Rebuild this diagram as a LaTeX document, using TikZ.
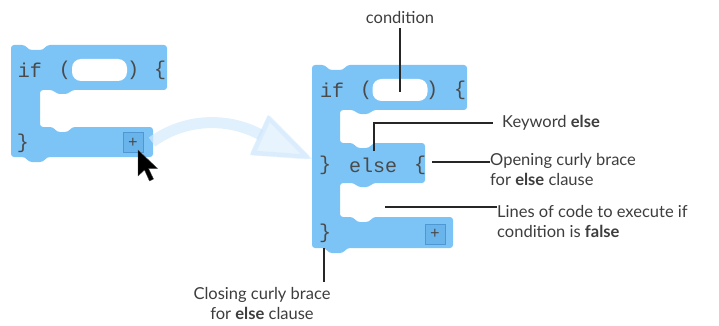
\documentclass[tikz,border=0pt]{standalone}
\usepackage{fontspec}
\setmainfont{Lato}
\newfontfamily\codefont{Liberation Mono}
\definecolor{blockblue}{HTML}{7DC4F6}
\definecolor{plusblue}{HTML}{6AB4EC}
\definecolor{plusedge}{HTML}{4E97D2}
\definecolor{codegray}{HTML}{4A4A4A}
\definecolor{labelgray}{HTML}{3D3D3D}
\definecolor{hintblue}{HTML}{D3E9FC}
\begin{document}
\begin{tikzpicture}[x=1pt,y=-1pt,
  blockshape/.style={fill=blockblue, rounded corners=3pt},
  slot/.style={fill=white, rounded corners=9pt, minimum width=55pt, minimum height=22pt, inner sep=0},
  code/.style={font=\codefont\fontsize{20}{20}\selectfont, text=codegray, inner sep=0},
  lbl/.style={font=\fontsize{16.5}{20}\selectfont, text=labelgray, inner sep=0},
  leader/.style={draw=black!85, line width=1.1pt},
  plusbox/.style={fill=plusblue, draw=plusedge, line width=0.8pt, minimum size=20pt, inner sep=0,
    font=\codefont\fontsize{16}{16}\selectfont, text=codegray},
  band/.style={draw=hintblue, opacity=0.7, line width=11pt},
  cursorshape/.style={fill=black, draw=black!70, line width=0.4pt, line join=round}
]
\useasboundingbox (0,0) rectangle (719,326);

% ---- collapsed if block ----
\path[blockshape] (11,45) -- (25,45) -- (29,50) -- (43,50) -- (47,45) -- (167,45)
  -- (167,90) -- (72,90) -- (68,94) -- (57,94) -- (53,90) -- (40,90)
  -- (40,127) -- (53,127) -- (57,132) -- (68,132) -- (72,127) -- (153,127)
  -- (153,157) -- (47,157) -- (43,162) -- (29,162) -- (25,157) -- (11,157) -- cycle;
\node[slot] (condL) at (99.5,70) {};
\node[code] (ifL) at (30,70) {if};
\node[code] (lparL) at (65,70) {(};
\node[code] (rparL) at (133,70) {)};
\node[code] (lbrL) at (160,70) {\{};
\node[code] (rbrL) at (23,143) {\}};
\node[plusbox] (plusL) at (133,142.5) {+};

% ---- transition arrow ----
\coordinate (arrowstart) at (152,142);
\coordinate (arrowbase) at (261,135);
\draw[band] (arrowstart) .. controls (185,118) and (228,117) .. (arrowbase);
\fill[hintblue, opacity=0.55] (268,115) -- (312,159) -- (250,155) -- cycle;
\draw[hintblue!80!blockblue, opacity=0.3, line width=5pt, line join=round]
  (269,118) -- (307,157) -- (253,153) -- cycle;

% ---- mouse pointer ----
\draw[cursorshape] (138,150) -- (138,176) -- (144.5,170) -- (149.5,181) -- (153.5,179)
  -- (148.5,168.5) -- (157.5,168.5) -- cycle;

% ---- expanded if / else block ----
\path[blockshape] (312,65) -- (325,65) -- (329,70) -- (343,70) -- (347,65) -- (467,65)
  -- (467,110) -- (373,110) -- (369,114) -- (358,114) -- (354,110) -- (340,110)
  -- (340,143) -- (353,143) -- (357,148) -- (369,148) -- (373,143) -- (425,143)
  -- (425,183) -- (373,183) -- (369,187) -- (358,187) -- (354,183) -- (340,183)
  -- (340,217) -- (353,217) -- (357,222) -- (369,222) -- (373,217) -- (453,217)
  -- (453,248) -- (347,248) -- (343,253) -- (329,253) -- (325,248) -- (312,248) -- cycle;
\node[slot] (condR) at (400,90) {};
\node[code] (ifR) at (332,90) {if};
\node[code] (lparR) at (366,90) {(};
\node[code] (rparR) at (432,90) {)};
\node[code] (lbrR) at (460,90) {\{};
\node[code] (midbr) at (325,165) {\}};
\node[code] (elsekw) at (373,165) {else};
\node[code] (openbr) at (420,165) {\{};
\node[code] (closebr) at (325,233) {\}};
\node[plusbox] (plusR) at (435,234) {+};

% ---- annotations ----
\coordinate (condpt) at (400,92);
\coordinate (kwpt) at (374,151);
\coordinate (openpt) at (432,162);
\coordinate (linespt) at (385,207);
\coordinate (closept) at (324,248);

\node[lbl, anchor=center] (condlbl) at (400,17) {condition};
\node[lbl, anchor=west] (kwlbl) at (502,123) {Keyword \textbf{else}};
\node[lbl, anchor=north west, align=left] (openlbl) at (490,153) {Opening curly brace\\for \textbf{else} clause};
\node[lbl, anchor=north west, align=left] (lineslbl) at (497,205) {Lines of code to execute if\\condition is \textbf{false}};
\node[lbl, anchor=north, align=center] (closelbl) at (262,287) {Closing curly brace\\for \textbf{else} clause};

\draw[leader, shorten >=5pt] (condpt) -- (condpt |- condlbl.south);
\draw[leader, shorten >=9pt] (kwpt) |- (kwlbl.west);
\draw[leader] (openpt) -- (openpt -| openlbl.west);
\draw[leader] (linespt) -- (linespt -| lineslbl.west);
\draw[leader, shorten >=5pt] (closept) -- (closept |- closelbl.north);
\end{tikzpicture}
\end{document}
